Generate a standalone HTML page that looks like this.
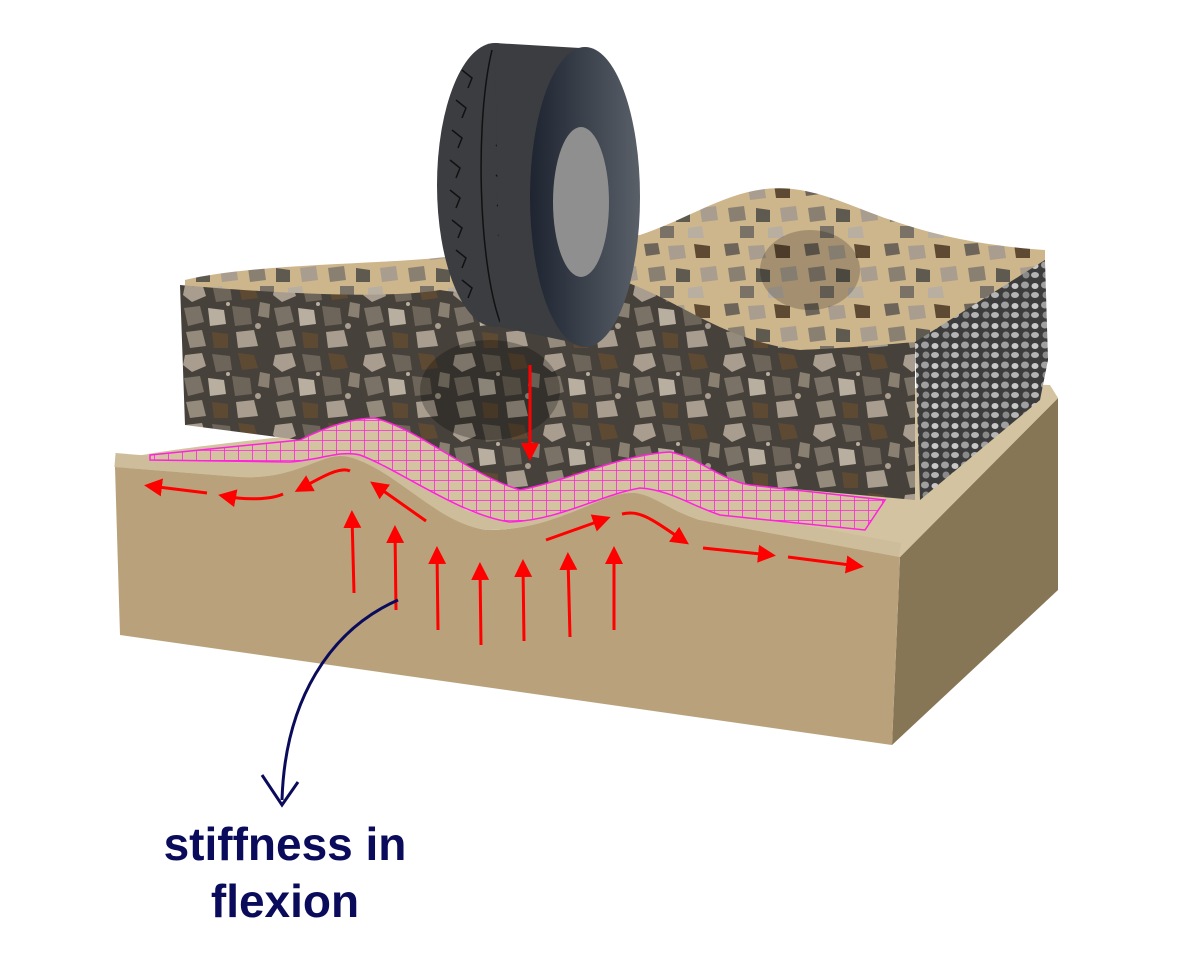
<!DOCTYPE html>
<html><head><meta charset="utf-8"><style>
html,body{margin:0;padding:0;background:#fff;}
svg{display:block}
</style></head><body>
<svg width="1194" height="960" viewBox="0 0 1194 960" xmlns="http://www.w3.org/2000/svg">
<defs>
<pattern id="stones" width="90" height="70" patternUnits="userSpaceOnUse">
<rect width="90" height="70" fill="#46413a"/>
<polygon points="5,5 22,3 26,16 12,22 3,15" fill="#a89d8e"/>
<polygon points="32,4 50,6 52,20 36,22" fill="#6d6559"/>
<polygon points="58,3 74,5 78,18 62,20" fill="#5e4a33"/>
<polygon points="80,22 90,24 89,38 78,36" fill="#8a8072"/>
<polygon points="4,28 20,26 24,42 8,46" fill="#7a7266"/>
<polygon points="28,28 44,30 46,44 30,46" fill="#b9afa0"/>
<polygon points="52,26 70,28 72,44 55,46" fill="#6d6559"/>
<polygon points="6,52 22,50 26,66 10,68" fill="#958b7d"/>
<polygon points="32,52 48,54 48,68 34,68" fill="#5e4a33"/>
<polygon points="56,52 74,50 78,66 58,68" fill="#a89d8e"/>
<circle cx="78" cy="46" r="3" fill="#a89d8e"/>
<circle cx="48" cy="24" r="2" fill="#b9afa0"/>
</pattern>
<pattern id="stonesTop" width="80" height="60" patternUnits="userSpaceOnUse">
<rect width="80" height="60" fill="#cdb58c"/>
<polygon points="4,4 18,3 20,14 6,16" fill="#6d6559"/>
<polygon points="28,6 44,5 46,18 30,20" fill="#a89d8e"/>
<polygon points="54,4 70,6 70,18 56,18" fill="#5e4a33"/>
<polygon points="8,28 24,26 26,40 10,42" fill="#8a8072"/>
<polygon points="36,28 50,30 50,42 36,42" fill="#5e5a50"/>
<polygon points="60,28 76,26 78,40 62,42" fill="#a89d8e"/>
<polygon points="20,46 34,46 34,58 20,58" fill="#7a7266"/>
<polygon points="48,48 62,46 64,58 48,58" fill="#b9afa0"/>
</pattern>
<pattern id="gravel" width="20" height="20" patternUnits="userSpaceOnUse">
<rect width="20" height="20" fill="#3c3c3c"/>
<ellipse cx="5" cy="5" rx="4" ry="3.5" fill="#a0a0a0"/>
<ellipse cx="15" cy="6" rx="3.5" ry="3" fill="#c8c8c8"/>
<ellipse cx="6" cy="15" rx="3.5" ry="3.5" fill="#8a8a8a"/>
<ellipse cx="15" cy="15" rx="4" ry="3" fill="#b4b4b4"/>
</pattern>
<linearGradient id="side" x1="0" x2="1">
<stop offset="0" stop-color="#1e2430"/><stop offset="1" stop-color="#5a6068"/>
</linearGradient>
<pattern id="grid" width="14" height="10" patternUnits="userSpaceOnUse">
<path d="M0 0H14M0 0V10" stroke="#ff22dd" stroke-width="1.6" fill="none"/>
</pattern>
<marker id="ah" markerWidth="6" markerHeight="6" refX="4" refY="3" orient="auto" markerUnits="strokeWidth">
<path d="M0,0 L6,3 L0,6 z" fill="#ff0000"/>
</marker>
</defs>

<!-- soil block -->
<polygon points="900,557 1058,398 1058,590 892,745" fill="#877656"/>
<path d="M115,462 C150,440 900,380 1050,385 L1058,398 L900,557 L115,470 Z" fill="#d3c3a0"/>
<path d="M115,467 L240,477 C300,480 320,450 350,457 C400,470 440,525 488,530 C560,530 600,490 636,493 C660,497 670,510 700,520 L900,557 L892,745 L120,635 Z" fill="#b9a27b"/>
<path d="M115,467 L240,477 C300,480 320,450 350,457 C400,470 440,525 488,530 C560,530 600,490 636,493 C660,497 670,510 700,520 L900,557" fill="none" stroke="#cdbd9b" stroke-width="14" transform="translate(0,-7)"/>

<!-- aggregate layer -->
<path d="M185,280 C260,262 400,265 460,255 L640,235 C700,215 740,180 800,190 C860,200 900,240 1045,250 L1045,330 L915,350 L915,500 C820,490 720,480 680,460 C640,455 560,470 520,490 C440,480 400,430 350,420 C300,420 250,440 185,420 Z" fill="url(#stonesTop)"/>
<path d="M180,285 C260,292 380,300 440,290 C500,300 560,270 620,280 C680,300 720,340 800,350 C850,348 880,345 915,342 L915,500 L750,485 C720,480 700,458 670,452 C620,455 570,480 520,490 C470,475 420,430 375,418 C350,418 330,425 300,440 L185,425 Z" fill="url(#stones)"/>
<path d="M915,342 L1045,260 L1048,360 L1040,400 L920,500 Z" fill="url(#gravel)"/>
<ellipse cx="490" cy="390" rx="70" ry="50" fill="#000" opacity="0.25"/>
<ellipse cx="810" cy="270" rx="50" ry="40" fill="#000" opacity="0.2"/>

<!-- grid -->
<path d="M150,455 L300,440 C330,425 355,418 375,418 C420,430 470,475 520,490 C570,480 620,455 670,452 C700,458 720,480 750,485 L885,500 L865,530 L720,515 C690,505 670,490 640,488 C600,495 560,520 510,522 C460,515 400,470 360,455 C340,450 320,460 290,462 L150,460 Z" fill="#d3c3a0"/>
<path d="M150,455 L300,440 C330,425 355,418 375,418 C420,430 470,475 520,490 C570,480 620,455 670,452 C700,458 720,480 750,485 L885,500 L865,530 L720,515 C690,505 670,490 640,488 C600,495 560,520 510,522 C460,515 400,470 360,455 C340,450 320,460 290,462 L150,460 Z" fill="url(#grid)" stroke="#ff22dd" stroke-width="1.5"/>

<!-- tire -->
<ellipse cx="495" cy="185" rx="58" ry="142" fill="#3b3d41"/>
<g stroke="#111" stroke-width="1.5" fill="none">
<path d="M462,70 L472,78 L468,88 M456,100 L466,108 L462,118 M452,130 L462,138 L458,148 M450,160 L460,168 L456,178 M450,190 L460,198 L456,208 M452,220 L462,228 L458,238 M456,250 L466,258 L462,268 M462,280 L472,288 L468,298"/>
<path d="M505,55 L515,63 L511,73 M500,85 L510,93 L506,103 M498,115 L508,123 L504,133 M496,145 L506,153 L502,163 M496,175 L506,183 L502,193 M497,205 L507,213 L503,223 M498,235 L508,243 L504,253 M502,265 L512,273 L508,283 M508,295 L518,303"/>
<path d="M492,50 C475,120 478,260 500,322"/>
</g>
<path d="M495,43 L580,48 L585,345 L500,327 Z" fill="#3b3d41"/>
<ellipse cx="585" cy="197" rx="55" ry="150" fill="url(#side)"/>
<ellipse cx="581" cy="202" rx="28" ry="75" fill="#8f8f8f"/>

<!-- red arrows -->
<g stroke="#ff0000" stroke-width="3" fill="none" marker-end="url(#ah)">
<line x1="530" y1="365" x2="530" y2="455" stroke-width="3"/>
<line x1="207" y1="493" x2="150" y2="486"/>
<path d="M283,494 C270,500 245,500 224,496"/>
<path d="M350,471 C340,466 320,478 300,489"/>
<line x1="426" y1="521" x2="375" y2="485"/>
<path d="M546,540 L605,519"/>
<path d="M622,514 C640,510 650,518 684,541"/>
<line x1="703" y1="548" x2="770" y2="555"/>
<line x1="788" y1="557" x2="858" y2="566"/>
<line x1="354" y1="593" x2="352" y2="516"/>
<line x1="396" y1="610" x2="395" y2="531"/>
<line x1="438" y1="630" x2="437" y2="552"/>
<line x1="481" y1="645" x2="480" y2="568"/>
<line x1="524" y1="641" x2="523" y2="565"/>
<line x1="570" y1="637" x2="568" y2="558"/>
<line x1="614" y1="630" x2="614" y2="552"/>
</g>

<!-- navy arrow -->
<path d="M398,600 C330,630 285,700 282,800" stroke="#0b0b5c" stroke-width="3" fill="none"/>
<path d="M262,775 L282,805 L298,782" stroke="#0b0b5c" stroke-width="3" fill="none"/>
<text x="285" y="860" text-anchor="middle" font-family="Liberation Sans, sans-serif" font-weight="bold" font-size="46" fill="#0b0b5c">stiffness in</text>
<text x="285" y="917" text-anchor="middle" font-family="Liberation Sans, sans-serif" font-weight="bold" font-size="46" fill="#0b0b5c">flexion</text>
</svg>
</body></html>
